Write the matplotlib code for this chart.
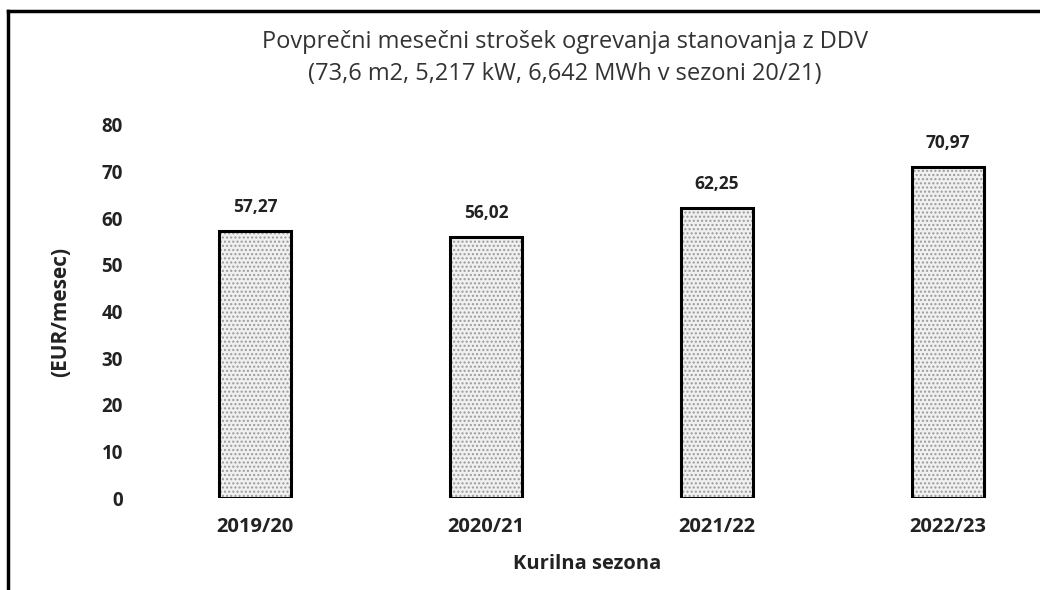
import matplotlib.pyplot as plt
from matplotlib.lines import Line2D

plt.rcParams['font.family'] = ['Open Sans', 'DejaVu Sans']
plt.rcParams['hatch.linewidth'] = 1.0

# data
seasons = ['2019/20', '2020/21', '2021/22', '2022/23']
costs = [57.27, 56.02, 62.25, 70.97]
labels = ['57,27', '56,02', '62,25', '70,97']
title = 'Povprečni mesečni strošek ogrevanja stanovanja z DDV\n(73,6 m2, 5,217 kW, 6,642 MWh v sezoni 20/21)'

fig = plt.figure(figsize=(10.4, 5.9), dpi=100)
W, H = 1040, 590
# scanned frame: top and left edges only
fig.lines.append(Line2D([8 / W, 1.0], [1 - 11 / H, 1 - 11 / H], transform=fig.transFigure,
                        color='black', linewidth=2.5))
fig.lines.append(Line2D([8 / W, 8 / W], [0, 1 - 11 / H], transform=fig.transFigure,
                        color='black', linewidth=2.5))

ax = fig.add_axes([145 / W, 1 - 498 / H, (1030 - 145) / W, (498 - 125) / H])
x = range(len(seasons))
# stipple fill, then black outline on top
ax.bar(x, costs, width=0.31, color='#f0f0f0', hatch='....', edgecolor='#9a9a9a', linewidth=0)
ax.bar(x, costs, width=0.31, fill=False, edgecolor='black', linewidth=2.2)

for xi, v, s in zip(x, costs, labels):
    ax.text(xi, v + 3.2, s, ha='center', va='bottom', fontsize=12.5, fontweight='bold', color='#222222')

ax.set_ylim(0, 80)
ax.set_xlim((145 - 255) / 231, (1030 - 255) / 231)
ax.set_yticks(range(0, 81, 10))
ax.set_xticks(list(x))
ax.set_xticklabels(seasons)
ax.tick_params(length=0)
ax.tick_params(axis='x', labelsize=14.5, pad=14)
ax.tick_params(axis='y', labelsize=13.5, pad=16)
for lab in ax.get_xticklabels() + ax.get_yticklabels():
    lab.set_fontweight('bold')
    lab.set_color('#222222')
for sp in ax.spines.values():
    sp.set_visible(False)

ax.set_ylabel('(EUR/mesec)', fontsize=15, fontweight='bold', color='#222222', labelpad=22)
ax.set_xlabel('Kurilna sezona', fontsize=14.5, fontweight='bold', color='#222222', labelpad=12)

fig.text(565 / W, 1 - 58 / H, title, ha='center', va='center', fontsize=17,
         color='#333333', linespacing=1.4)

fig.savefig('out.png', dpi=100)
